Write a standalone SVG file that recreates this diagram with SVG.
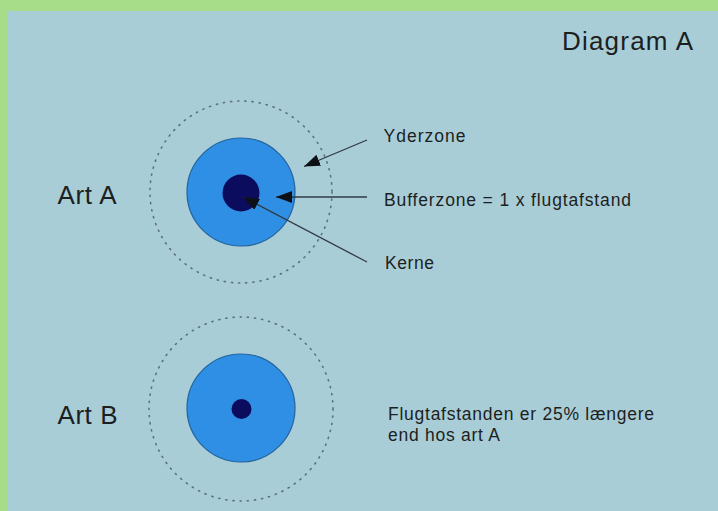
<svg xmlns="http://www.w3.org/2000/svg" width="718" height="511" viewBox="0 0 718 511">
<defs>
<style>
.t{font-family:"Liberation Sans",Arial,sans-serif;fill:#1c1f22}
.big{font-size:26px}
.sm{font-size:17.5px}
.ring{fill:none;stroke:#5d7179;stroke-width:1.6;stroke-dasharray:1.2 6;stroke-linecap:round}
.zone{fill:#2f8fe4;stroke:#23639e;stroke-width:1.2}
.core{fill:#0b0c5e}
.conn{stroke:#2f3b44;stroke-width:1.3;fill:none}
</style>
<marker id="ah" viewBox="0 0 16 12" refX="16" refY="6" markerWidth="16" markerHeight="12" markerUnits="userSpaceOnUse" orient="auto">
<path d="M0,0 L16,6 L0,12 Z" fill="#0d1014"/>
</marker>
</defs>
<rect x="0" y="0" width="718" height="511" fill="#a7dc88"/>
<rect x="7" y="11" width="711" height="500" fill="#a9cdd7"/>
<text class="t big" x="562" y="49.5" textLength="131" lengthAdjust="spacing">Diagram A</text>
<g id="artA">
<circle class="ring" cx="241" cy="192" r="91"/>
<circle class="zone" cx="241" cy="192" r="54"/>
<circle class="core" cx="241" cy="193" r="18.5"/>
<text class="t big" x="57.5" y="203.5" textLength="59" lengthAdjust="spacing">Art A</text>
</g>
<g id="artB">
<circle class="ring" cx="241" cy="409" r="92"/>
<circle class="zone" cx="241" cy="408" r="54"/>
<circle class="core" cx="241.5" cy="409" r="10"/>
<text class="t big" x="57.5" y="424" textLength="60" lengthAdjust="spacing">Art B</text>
</g>
<g id="labels">
<text class="t sm" x="383.5" y="141.5" textLength="82" lengthAdjust="spacing">Yderzone</text>
<text class="t sm" x="384" y="206" textLength="247" lengthAdjust="spacing">Bufferzone = 1 x flugtafstand</text>
<text class="t sm" x="385" y="268.5" textLength="49" lengthAdjust="spacing">Kerne</text>
<text class="t sm" x="388" y="419.5" textLength="266" lengthAdjust="spacing">Flugtafstanden er 25% længere</text>
<text class="t sm" x="388" y="441" textLength="112" lengthAdjust="spacing">end hos art A</text>
</g>
<g id="connectors">
<line class="conn" x1="367" y1="140" x2="304" y2="166.5" marker-end="url(#ah)"/>
<line class="conn" x1="367" y1="197" x2="276" y2="197" marker-end="url(#ah)"/>
<line class="conn" x1="367" y1="262" x2="243" y2="197" marker-end="url(#ah)"/>
</g>
</svg>
